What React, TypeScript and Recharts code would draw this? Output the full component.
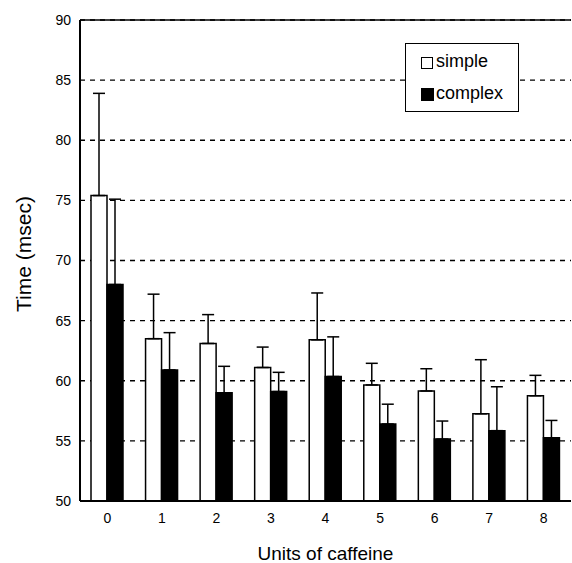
import React from 'react';
import { BarChart, Bar, XAxis, YAxis, CartesianGrid, ErrorBar, Legend, ReferenceLine } from 'recharts';

const categories = ['0', '1', '2', '3', '4', '5', '6', '7', '8'];
const simpleValues = [75.4, 63.5, 63.1, 61.1, 63.4, 59.65, 59.15, 57.25, 58.75];
const simpleErrors = [8.5, 3.7, 2.4, 1.7, 3.9, 1.8, 1.85, 4.5, 1.7];
const complexValues = [68.0, 60.9, 59.0, 59.1, 60.35, 56.4, 55.15, 55.85, 55.25];
const complexErrors = [7.1, 3.1, 2.2, 1.6, 3.3, 1.65, 1.5, 3.65, 1.45];
const yTicks = [50, 55, 60, 65, 70, 75, 80, 85, 90];

const data = categories.map((c, i) => ({
  units: c,
  simple: simpleValues[i],
  simpleErr: [0, simpleErrors[i]],
  complex: complexValues[i],
  complexErr: [0, complexErrors[i]],
}));

const FONT = '"Liberation Sans", Arial, Helvetica, sans-serif';

const LegendBox = () => (
  <div
    style={{
      width: 114,
      height: 69,
      border: '1px solid #000',
      background: '#fff',
      boxSizing: 'border-box',
      fontFamily: FONT,
      fontSize: 18,
      color: '#000',
      position: 'relative',
    }}
  >
    <div style={{ position: 'absolute', left: 15, top: 13, width: 10, height: 10, border: '1.5px solid #000', background: '#fff' }} />
    <div style={{ position: 'absolute', left: 30, top: 5, lineHeight: '24px' }}>simple</div>
    <div style={{ position: 'absolute', left: 15, top: 44, width: 13, height: 13, background: '#000' }} />
    <div style={{ position: 'absolute', left: 30, top: 37, lineHeight: '24px' }}>complex</div>
  </div>
);

const YLabel = () => (
  <text
    x={23}
    y={254}
    transform="rotate(-90 23 254)"
    textAnchor="middle"
    dominantBaseline="central"
    fontFamily={FONT}
    fontSize={21}
    fill="#000"
  >
    Time (msec)
  </text>
);

export default function App() {
  return (
    <div style={{ position: 'absolute', left: 0, top: 0, background: '#fff' }}>
      <BarChart
        width={572}
        height={563}
        data={data}
        margin={{ top: 20, right: 1, bottom: 0, left: 0 }}
        barSize={16}
        barGap={0}
      >
        <CartesianGrid
          horizontal={true}
          vertical={false}
          stroke="#000"
          strokeWidth={1.3}
          strokeDasharray="5 5"
        />
        <ReferenceLine y={90} stroke="#000" strokeWidth={1.5} />
        <XAxis
          dataKey="units"
          height={62}
          tickLine={false}
          tickSize={8}
          tickMargin={4}
          axisLine={{ stroke: '#000', strokeWidth: 2 }}
          tick={{ fill: '#000', fontSize: 14, fontFamily: FONT }}
          label={{ value: 'Units of caffeine', position: 'insideBottom', offset: 3, fill: '#000', fontSize: 19, fontFamily: FONT }}
        />
        <YAxis
          width={80}
          domain={[50, 90]}
          ticks={yTicks}
          interval={0}
          allowDataOverflow
          tickLine={false}
          tickSize={7}
          tickMargin={2}
          axisLine={{ stroke: '#000', strokeWidth: 2 }}
          tick={{ fill: '#000', fontSize: 14, fontFamily: FONT }}
          label={<YLabel />}
        />
        <Legend
          layout="vertical"
          verticalAlign="middle"
          align="center"
          content={() => <LegendBox />}
          wrapperStyle={{ position: 'absolute', left: 405, top: 43, width: 114, height: 69 }}
        />
        <Bar dataKey="simple" fill="#fff" stroke="#000" strokeWidth={1.5} isAnimationActive={false}>
          <ErrorBar dataKey="simpleErr" width={6} stroke="#000" strokeWidth={1.5} isAnimationActive={false} />
        </Bar>
        <Bar dataKey="complex" fill="#000" stroke="#000" strokeWidth={1.5} isAnimationActive={false}>
          <ErrorBar dataKey="complexErr" width={6} stroke="#000" strokeWidth={1.5} isAnimationActive={false} />
        </Bar>
      </BarChart>
    </div>
  );
}
